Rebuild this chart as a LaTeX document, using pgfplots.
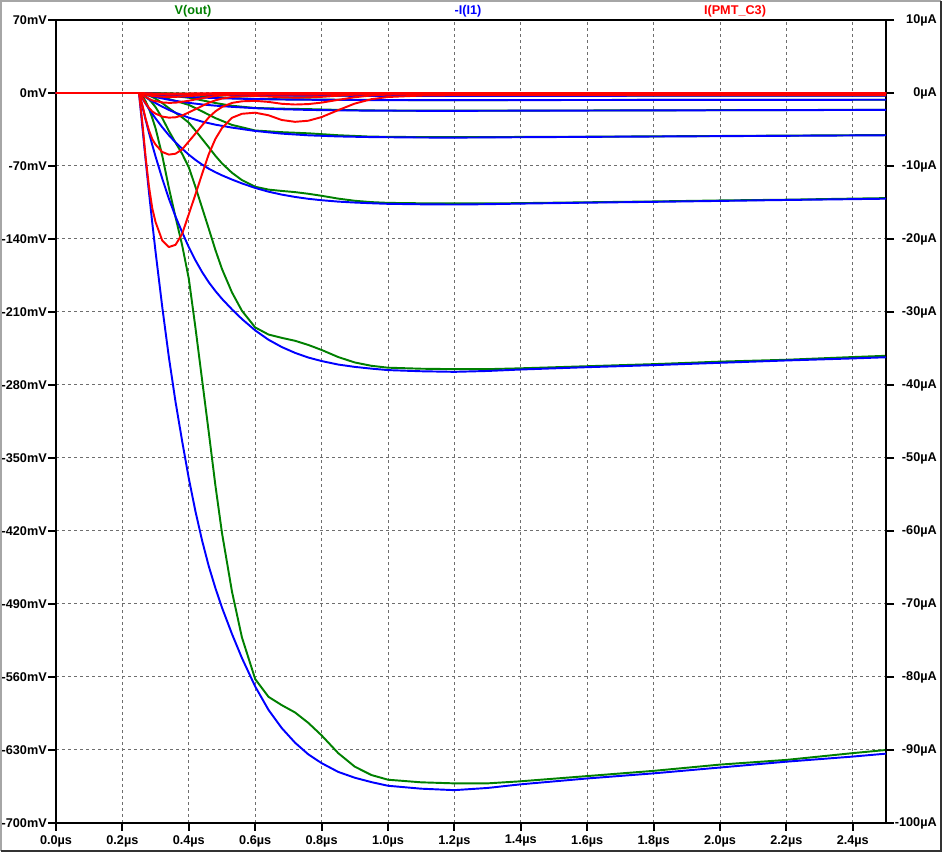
\documentclass[border=0pt]{standalone}
\usepackage{fontspec}
\setmainfont{Liberation Sans}
\usepackage{pgfplots}
\pgfplotsset{compat=1.18}
\usepackage{pgfplotstable}
\definecolor{ltgreen}{RGB}{0,128,0}
\definecolor{ltblue}{RGB}{0,0,255}
\definecolor{ltred}{RGB}{255,0,0}
\definecolor{gridgray}{RGB}{110,110,110}

% t, -I(I1) [uA], V(out) [mV], I(PMT_C3) [uA] for the three largest steps
\pgfplotstableread{
t b1 b2 b3 g1 g2 g3 r1 r2 r3
0 0 0 0 0 0 0 0 0 0
0.25 0 0 0 0 0 0 0 0 0
0.26 -4.6 -1.84 -0.736 -3 -1.2 -0.48 -4 -1.6 -0.64
0.27 -9.2 -3.68 -1.472 -8 -3.2 -1.28 -8.8 -3.52 -1.408
0.28 -13.6 -5.44 -2.176 -15 -6 -2.4 -12.8 -5.12 -2.048
0.29 -17.8 -7.12 -2.848 -24 -9.6 -3.84 -15.8 -6.32 -2.528
0.30 -21.8 -8.72 -3.488 -34 -13.6 -5.44 -17.7 -7.08 -2.832
0.32 -29.3 -11.72 -4.688 -60 -24 -9.6 -20.2 -8.08 -3.232
0.34 -36.2 -14.48 -5.792 -91 -36.4 -14.56 -21.1 -8.44 -3.376
0.36 -42.3 -16.92 -6.768 -119 -47.6 -19.04 -20.8 -8.32 -3.328
0.38 -47.7 -19.08 -7.632 -146 -58.4 -23.36 -19.3 -7.72 -3.088
0.40 -52.8 -21.12 -8.448 -178 -71.2 -28.48 -16.6 -6.64 -2.656
0.42 -57.3 -22.92 -9.168 -225 -90 -36 -13.9 -5.56 -2.224
0.44 -61.3 -24.52 -9.808 -275 -110 -44 -11.1 -4.44 -1.776
0.46 -64.8 -25.92 -10.368 -325 -130 -52 -8.4 -3.36 -1.344
0.48 -67.8 -27.12 -10.848 -376 -150.4 -60.16 -6.3 -2.52 -1.008
0.50 -70.5 -28.2 -11.28 -422 -168.8 -67.52 -4.8 -1.92 -0.768
0.53 -74.1 -29.64 -11.856 -478 -191.2 -76.48 -3.4 -1.36 -0.544
0.56 -77.4 -30.96 -12.384 -522 -208.8 -83.52 -2.85 -1.14 -0.456
0.60 -81.3 -32.52 -13.008 -562 -224.8 -89.92 -2.7 -1.08 -0.432
0.64 -84.5 -33.8 -13.52 -579 -231.6 -92.64 -3.05 -1.22 -0.488
0.68 -87.0 -34.8 -13.92 -587 -234.8 -93.92 -3.7 -1.48 -0.592
0.72 -89.0 -35.6 -14.24 -594 -237.6 -95.04 -3.95 -1.58 -0.632
0.76 -90.6 -36.24 -14.496 -604 -241.6 -96.64 -3.8 -1.52 -0.608
0.80 -91.8 -36.72 -14.688 -616 -246.4 -98.56 -3.3 -1.32 -0.528
0.85 -93.0 -37.2 -14.88 -633 -253.2 -101.28 -2.35 -0.94 -0.376
0.90 -93.8 -37.52 -15.008 -646 -258.4 -103.36 -1.45 -0.58 -0.232
0.95 -94.4 -37.76 -15.104 -654 -261.6 -104.64 -0.85 -0.34 -0.136
1.0 -94.9 -37.96 -15.184 -658.5 -263.4 -105.36 -0.55 -0.22 -0.088
1.1 -95.3 -38.12 -15.248 -661 -264.4 -105.76 -0.35 -0.14 -0.056
1.2 -95.5 -38.2 -15.28 -662 -264.8 -105.92 -0.3 -0.12 -0.048
1.3 -95.2 -38.08 -15.232 -662 -264.8 -105.92 -0.3 -0.12 -0.048
1.4 -94.7 -37.88 -15.152 -660 -264 -105.6 -0.3 -0.12 -0.048
1.6 -93.9 -37.56 -15.024 -655 -262 -104.8 -0.3 -0.12 -0.048
1.8 -93.2 -37.28 -14.912 -650 -260 -104 -0.3 -0.12 -0.048
2.0 -92.4 -36.96 -14.784 -644 -257.6 -103.04 -0.3 -0.12 -0.048
2.2 -91.6 -36.64 -14.656 -639.5 -255.8 -102.32 -0.3 -0.12 -0.048
2.4 -90.9 -36.36 -14.544 -633 -253.2 -101.28 -0.3 -0.12 -0.048
2.5 -90.5 -36.2 -14.48 -630 -252 -100.8 -0.3 -0.12 -0.048
}\maintab

% the four smallest steps
\pgfplotstableread{
t b4 b5 b6 b7 g4 g5 g6 g7 r4 r5 r6 r7
0 0 0 0 0 0 0 0 0 0 0 0 0
0.25 0 0 0 0 0 0 0 0 0 0 0 0
0.27 -0.589 -0.236 -0.094 -0.038 -0.512 -0.205 -0.082 -0.033 -0.563 -0.225 -0.090 -0.036
0.29 -1.139 -0.456 -0.182 -0.073 -1.536 -0.614 -0.246 -0.098 -1.011 -0.404 -0.162 -0.065
0.32 -1.875 -0.750 -0.300 -0.120 -3.84 -1.536 -0.614 -0.246 -1.293 -0.517 -0.207 -0.083
0.34 -2.317 -0.927 -0.371 -0.148 -5.824 -2.330 -0.932 -0.373 -1.350 -0.540 -0.216 -0.086
0.36 -2.707 -1.083 -0.433 -0.173 -7.616 -3.046 -1.218 -0.487 -1.331 -0.532 -0.213 -0.085
0.40 -3.379 -1.352 -0.541 -0.216 -11.392 -4.557 -1.823 -0.729 -1.062 -0.425 -0.170 -0.068
0.44 -3.923 -1.569 -0.628 -0.251 -17.6 -7.04 -2.816 -1.126 -0.710 -0.284 -0.114 -0.046
0.48 -4.339 -1.736 -0.694 -0.278 -24.064 -9.626 -3.850 -1.540 -0.403 -0.161 -0.064 -0.026
0.53 -4.742 -1.897 -0.759 -0.304 -30.592 -12.237 -4.895 -1.958 -0.218 -0.087 -0.035 -0.014
0.60 -5.203 -2.081 -0.832 -0.333 -35.968 -14.387 -5.755 -2.302 -0.173 -0.069 -0.028 -0.011
0.68 -5.568 -2.227 -0.891 -0.356 -37.568 -15.027 -6.011 -2.404 -0.237 -0.095 -0.038 -0.015
0.76 -5.798 -2.319 -0.928 -0.371 -38.656 -15.462 -6.185 -2.474 -0.243 -0.097 -0.039 -0.016
0.85 -5.952 -2.381 -0.952 -0.381 -40.512 -16.205 -6.482 -2.593 -0.150 -0.060 -0.024 -0.010
0.95 -6.042 -2.417 -0.967 -0.387 -41.856 -16.742 -6.697 -2.679 -0.054 -0.022 -0.009 -0.004
1.1 -6.099 -2.440 -0.976 -0.390 -42.304 -16.922 -6.769 -2.708 -0.022 -0.009 -0.004 -0.001
1.2 -6.112 -2.445 -0.978 -0.391 -42.368 -16.947 -6.779 -2.712 -0.019 -0.008 -0.003 -0.001
1.6 -6.010 -2.404 -0.962 -0.385 -41.92 -16.768 -6.707 -2.683 -0.019 -0.008 -0.003 -0.001
2.0 -5.914 -2.365 -0.946 -0.378 -41.216 -16.486 -6.594 -2.638 -0.019 -0.008 -0.003 -0.001
2.5 -5.792 -2.317 -0.927 -0.371 -40.32 -16.128 -6.451 -2.580 -0.019 -0.008 -0.003 -0.001
}\smalltab

\pgfplotsset{
  ltbase/.style={
    scale only axis, width=622.5pt, height=602.25pt,
    at={(42pt,21.75pt)}, anchor=south west,
    xmin=0, xmax=2.5,
    tick align=outside, major tick length=6pt,
    every tick/.style={black, line width=1.5pt},
    tick label style={font=\fontsize{9.5}{11}\selectfont\bfseries, inner sep=0pt, black},
    clip=false,
  },
  curve/.style={#1, line width=1.45pt, line join=round, mark=none},
}

\begin{document}
\begin{tikzpicture}
\path[use as bounding box] (0,0) rectangle (706.5pt,639pt);
\fill[white] (0,0) rectangle (706.5pt,639pt);
\draw[line width=1.5pt, black!35] (0.75pt,0.75pt) -- (0.75pt,638.25pt) -- (705.75pt,638.25pt);
\draw[line width=1.5pt, black!80] (0.75pt,0.75pt) -- (705.75pt,0.75pt) -- (705.75pt,638.25pt);

\begin{axis}[ltbase,
  ymin=-700, ymax=70,
  axis line style={black, line width=1.5pt},
  xtick={0,0.2,0.4,0.6,0.8,1.0,1.2,1.4,1.6,1.8,2.0,2.2,2.4},
  xticklabels={0.0µs,0.2µs,0.4µs,0.6µs,0.8µs,1.0µs,1.2µs,1.4µs,1.6µs,1.8µs,2.0µs,2.2µs,2.4µs},
  ytick={-700,-630,-560,-490,-420,-350,-280,-210,-140,-70,0,70},
  yticklabels={-700mV,-630mV,-560mV,-490mV,-420mV,-350mV,-280mV,-210mV,-140mV,-70mV,0mV,70mV},
  xtick pos=left, ytick pos=left,
  xticklabel style={anchor=north, yshift=-3pt},
  yticklabel style={anchor=east, xshift=-0.75pt},
  grid=major,
  major grid style={gridgray, dash pattern=on 2.25pt off 2.25pt, line width=0.75pt},
]
\addplot[curve=ltgreen] table[x=t,y=g1]{\maintab};
\addplot[curve=ltgreen] table[x=t,y=g2]{\maintab};
\addplot[curve=ltgreen] table[x=t,y=g3]{\maintab};
\addplot[curve=ltgreen] table[x=t,y=g4]{\smalltab};
\addplot[curve=ltgreen] table[x=t,y=g5]{\smalltab};
\addplot[curve=ltgreen] table[x=t,y=g6]{\smalltab};
\addplot[curve=ltgreen] table[x=t,y=g7]{\smalltab};
\end{axis}

\begin{axis}[ltbase,
  ymin=-100, ymax=10,
  axis x line=none,
  axis y line*=right,
  y axis line style={black, line width=1.5pt, -},
  ytick={-100,-90,-80,-70,-60,-50,-40,-30,-20,-10,0,10},
  yticklabels={-100µA,-90µA,-80µA,-70µA,-60µA,-50µA,-40µA,-30µA,-20µA,-10µA,0µA,10µA},
  yticklabel style={anchor=east, xshift=32.25pt},
]
\addplot[curve=ltblue] table[x=t,y=b1]{\maintab};
\addplot[curve=ltblue] table[x=t,y=b2]{\maintab};
\addplot[curve=ltblue] table[x=t,y=b3]{\maintab};
\addplot[curve=ltblue] table[x=t,y=b4]{\smalltab};
\addplot[curve=ltblue] table[x=t,y=b5]{\smalltab};
\addplot[curve=ltblue] table[x=t,y=b6]{\smalltab};
\addplot[curve=ltblue] table[x=t,y=b7]{\smalltab};
\addplot[curve=ltred] table[x=t,y=r1]{\maintab};
\addplot[curve=ltred] table[x=t,y=r2]{\maintab};
\addplot[curve=ltred] table[x=t,y=r3]{\maintab};
\addplot[curve=ltred] table[x=t,y=r4]{\smalltab};
\addplot[curve=ltred] table[x=t,y=r5]{\smalltab};
\addplot[curve=ltred] table[x=t,y=r6]{\smalltab};
\addplot[curve=ltred] table[x=t,y=r7]{\smalltab};
\end{axis}

\begin{scope}[every node/.style={font=\fontsize{9.5}{11}\selectfont\bfseries, inner sep=0pt, anchor=base}]
\node[text=ltgreen] at (144.75pt,628.1pt) {V(out)};
\node[text=ltblue] at (351pt,628.1pt) {-I(I1)};
\node[text=ltred] at (551.25pt,628.1pt) {I(PMT\_C3)};
\end{scope}
\end{tikzpicture}
\end{document}
